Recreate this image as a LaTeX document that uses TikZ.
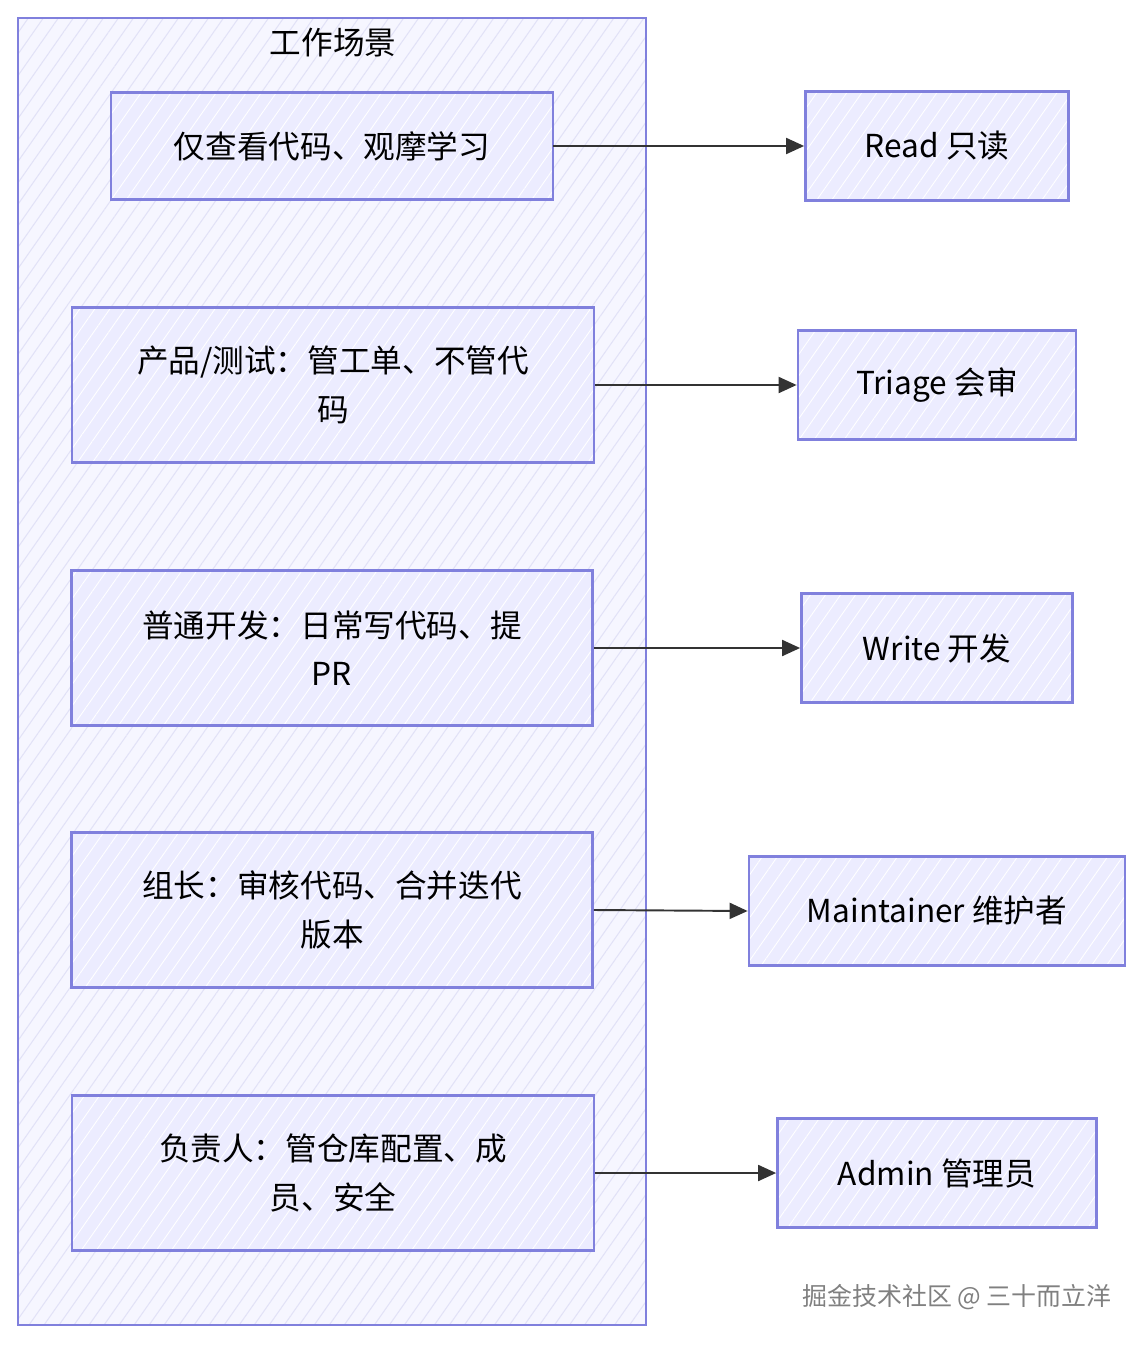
\documentclass[tikz,border=0pt]{standalone}
\usepackage{fontspec}
\setmainfont{Noto Sans CJK SC}
\usetikzlibrary{arrows.meta, patterns.meta}

\definecolor{boxfill}{HTML}{ECECFF}
\definecolor{boxline}{HTML}{8080DD}
\definecolor{groupfill}{HTML}{F6F6FF}
\definecolor{hatch}{HTML}{E2E2F7}
\definecolor{arrowgray}{HTML}{333333}
\definecolor{markgray}{HTML}{808080}

\begin{document}
\begin{tikzpicture}[
  x=0.02cm, y=-0.02cm,
  group/.style={draw=boxline, line width=1.5pt, preaction={fill=groupfill},
                pattern={Lines[angle=55, distance=7pt, line width=0.6pt]},
                pattern color=hatch},
  box/.style={draw=boxline, line width=1.6pt, preaction={fill=boxfill},
              pattern={Lines[angle=55, distance=7pt, line width=0.5pt]},
              pattern color=white,
              minimum height=3.1cm, align=center,
              font=\fontsize{18}{27.5}\selectfont},
  role/.style={box, minimum height=2.18cm},
  title/.style={font=\fontsize{18}{27.5}\selectfont},
  arr/.style={-{Triangle[length=0.36cm, width=0.32cm]}, line width=1.1pt,
              draw=arrowgray, fill=arrowgray}
]
  \useasboundingbox (0,0) rectangle (1146,1345);

  % scenes
  \draw[group] (18,18) rectangle (646,1325);
  \node[title] (scene) at (333,43) {工作场景};

  \node[box, minimum width=8.84cm, minimum height=2.14cm] (s1) at (332,146)
    {仅查看代码、观摩学习};
  \node[box, minimum width=10.44cm] (s2) at (333,385)
    {产品/测试：管工单、不管代\\码};
  \node[box, minimum width=10.42cm] (s3) at (332,648)
    {普通开发：日常写代码、提\\PR};
  \node[box, minimum width=10.42cm] (s4) at (332,910)
    {组长：审核代码、合并迭代\\版本};
  \node[box, minimum width=10.44cm] (s5) at (333,1173)
    {负责人：管仓库配置、成\\员、安全};

  % roles
  \node[role, minimum width=5.26cm] (r1) at (937,146) {Read 只读};
  \node[role, minimum width=5.56cm] (r2) at (937,385) {Triage 会审};
  \node[role, minimum width=5.42cm] (r3) at (937,648) {Write 开发};
  \node[role, minimum width=7.52cm] (r4) at (937,911) {Maintainer 维护者};
  \node[role, minimum width=6.38cm] (r5) at (937,1173) {Admin 管理员};

  \draw[arr] (s1.east) -- (r1.west);
  \draw[arr] (s2.east) -- (r2.west);
  \draw[arr] (s3.east) -- (r3.west);
  \draw[arr] (s4.east) -- (r4.west);
  \draw[arr] (s5.east) -- (r5.west);

  \node[font=\fontsize{14.2}{16}\selectfont, text=markgray] (mark) at (957,1297)
    {掘金技术社区 @ 三十而立洋};
\end{tikzpicture}
\end{document}
